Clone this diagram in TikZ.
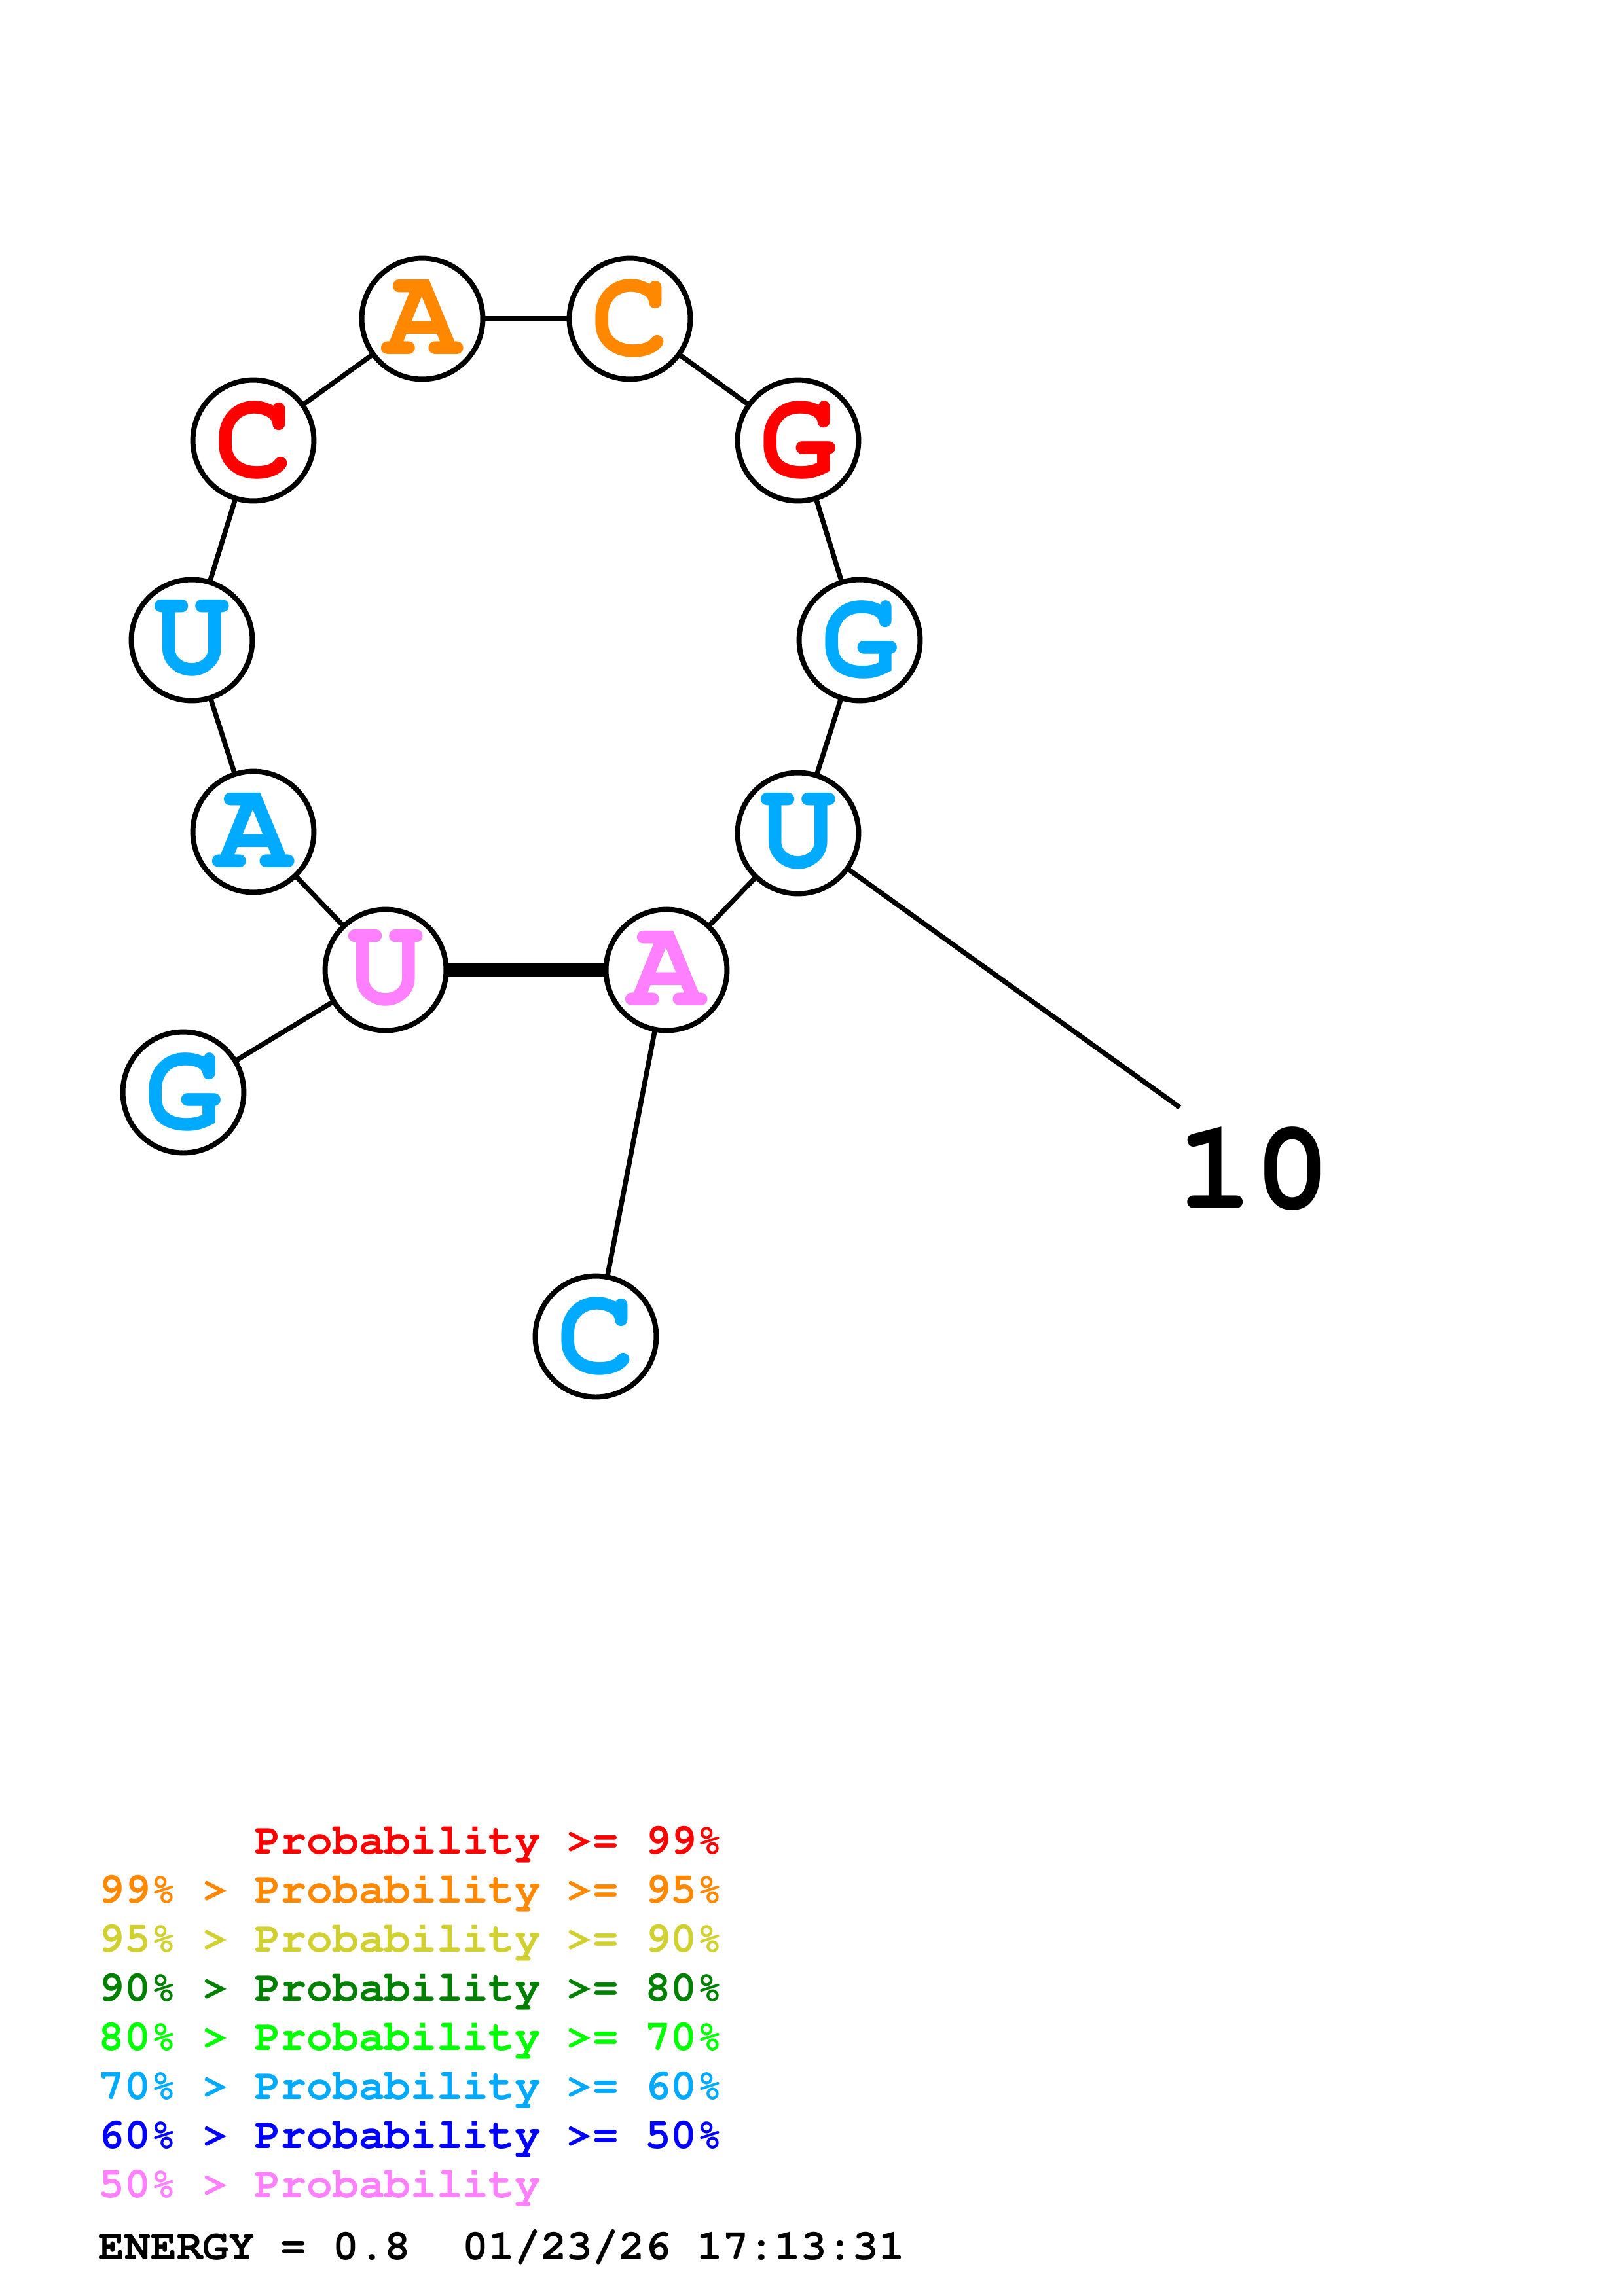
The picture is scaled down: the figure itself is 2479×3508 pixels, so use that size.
\documentclass[tikz,border=0pt]{standalone}
\usepackage[T1]{fontenc}
\newcommand{\courbig}{\fontsize{47}{47}\usefont{T1}{pcr}{b}{n}}
\newcommand{\courleg}{\fontsize{15.9}{16}\usefont{T1}{pcr}{b}{n}}
\definecolor{pred}{RGB}{255,0,0}
\definecolor{porange}{RGB}{255,136,0}
\definecolor{pyellow}{RGB}{208,208,48}
\definecolor{pdgreen}{RGB}{0,128,0}
\definecolor{pgreen}{RGB}{0,255,0}
\definecolor{plblue}{RGB}{0,170,255}
\definecolor{pblue}{RGB}{0,0,255}
\definecolor{ppink}{RGB}{255,128,255}
\tikzset{
  nt/.style={circle, draw=black, line width=1.9pt, fill=white, minimum size=44.4pt, inner sep=0pt, outer sep=0pt, text=#1, font=\courbig},
  bb/.style={line width=1.8pt, black},
  bp/.style={line width=5.5pt, black},
  leg/.style={anchor=base west, inner sep=0pt, font=\courleg}
}
\begin{document}
\begin{tikzpicture}[x=0.24013pt, y=-0.24013pt]
\useasboundingbox (0,0) rectangle (2479,3508);
\fill[white] (0,0) rectangle (2479,3508);
% backbone nodes
\node[nt=plblue] (n1) at (280,1669) {\raisebox{-2pt}{G}};
\node[nt=ppink] (n2) at (589,1482) {\raisebox{-2pt}{U}};
\node[nt=plblue] (n3) at (387,1271) {\raisebox{-2pt}{A}};
\node[nt=plblue] (n4) at (293,978) {\raisebox{-2pt}{U}};
\node[nt=pred] (n5) at (387,673) {\raisebox{-2pt}{C}};
\node[nt=porange] (n6) at (645,487) {\raisebox{-2pt}{A}};
\node[nt=porange] (n7) at (962,487) {\raisebox{-2pt}{C}};
\node[nt=pred] (n8) at (1219,673) {\raisebox{-2pt}{G}};
\node[nt=plblue] (n9) at (1313,978) {\raisebox{-2pt}{G}};
\node[nt=plblue] (n10) at (1219,1273) {\raisebox{-2pt}{U}};
\node[nt=ppink] (n11) at (1018,1482) {\raisebox{-2pt}{A}};
\node[nt=plblue] (n12) at (910,2042) {\raisebox{-2pt}{C}};
% connectors
\draw[bb] (n1) -- (n2);
\draw[bb] (n2) -- (n3);
\draw[bb] (n3) -- (n4);
\draw[bb] (n4) -- (n5);
\draw[bb] (n5) -- (n6);
\draw[bb] (n6) -- (n7);
\draw[bb] (n7) -- (n8);
\draw[bb] (n8) -- (n9);
\draw[bb] (n9) -- (n10);
\draw[bb] (n10) -- (n11);
\draw[bb] (n11) -- (n12);
\draw[bp] (n2) -- (n11);
% numbering
\coordinate (tick10) at (1802,1692);
\draw[bb] (n10) -- (tick10);
\node[inner sep=0pt, font=\courbig] (lab10) at (1915,1787) {10};
% legend
\node[leg, text=pred] (l1) at (150,2832) {\hphantom{99\%\ >\ }Probability\ >=\ 99\%};
\node[leg, text=porange] (l2) at (150,2907) {99\%\ >\ Probability\ >=\ 95\%};
\node[leg, text=pyellow] (l3) at (150,2982) {95\%\ >\ Probability\ >=\ 90\%};
\node[leg, text=pdgreen] (l4) at (150,3057) {90\%\ >\ Probability\ >=\ 80\%};
\node[leg, text=pgreen] (l5) at (150,3132) {80\%\ >\ Probability\ >=\ 70\%};
\node[leg, text=plblue] (l6) at (150,3207) {70\%\ >\ Probability\ >=\ 60\%};
\node[leg, text=pblue] (l7) at (150,3282) {60\%\ >\ Probability\ >=\ 50\%};
\node[leg, text=ppink] (l8) at (150,3357) {50\%\ >\ Probability};
\node[leg, text=black] (en) at (150,3452) {ENERGY\ =\ 0.8\ \ 01/23/26\ 17:13:31};
\end{tikzpicture}
\end{document}
